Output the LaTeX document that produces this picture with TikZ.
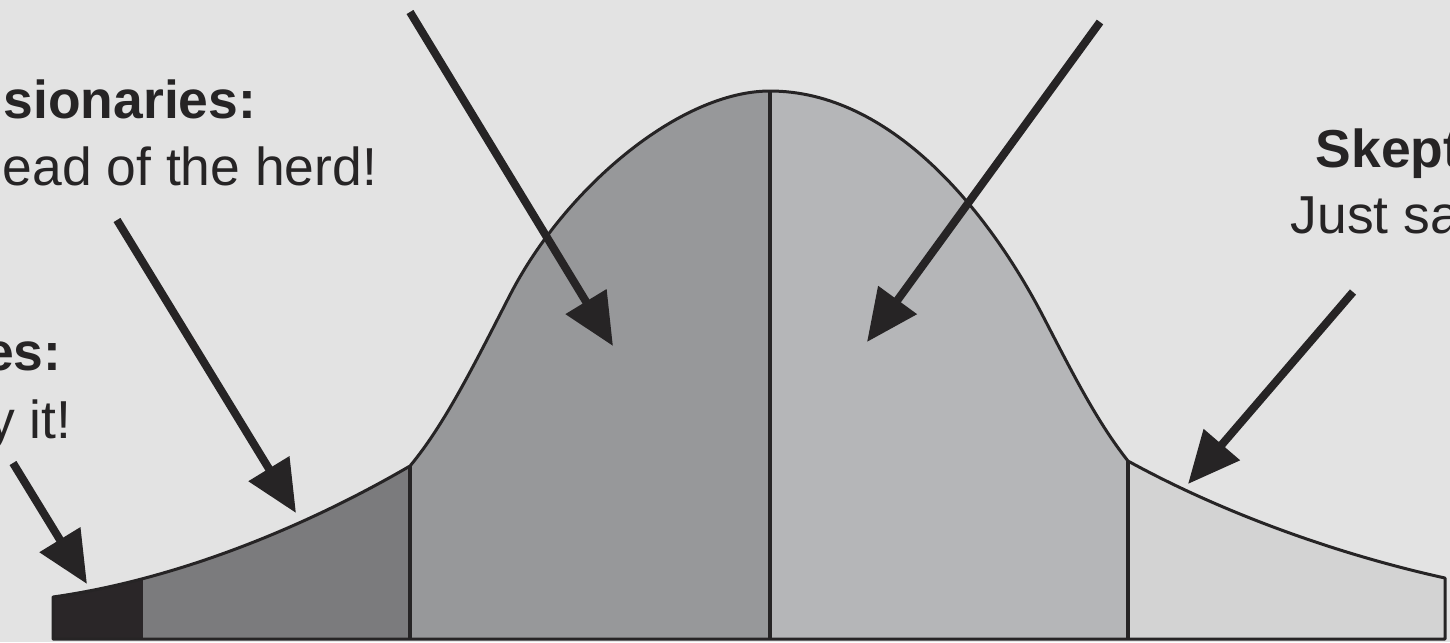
\documentclass[tikz,border=0pt]{standalone}
\usepackage{fontspec}
\setmainfont{Liberation Sans}
\usetikzlibrary{arrows.meta}

\definecolor{paper}{RGB}{227,227,227}
\definecolor{ink}{RGB}{38,36,37}
\definecolor{innovators}{RGB}{42,38,40}
\definecolor{adopters}{RGB}{123,123,125}
\definecolor{earlymajority}{RGB}{151,152,154}
\definecolor{latemajority}{RGB}{181,182,184}
\definecolor{laggards}{RGB}{211,211,211}

\begin{document}
\begin{tikzpicture}[x=0.1mm,y=-0.1mm]
      \tikzstyle{every node}=[font=\fontsize{15.2pt}{18pt}\selectfont, text=ink, inner sep=0pt]
      \tikzstyle{title}=[font=\fontsize{15.2pt}{18pt}\selectfont\bfseries]
      \tikzstyle{pointer}=[draw=ink, line width=0.8mm, -{Triangle[length=5.2mm,width=4.6mm]}]
      \tikzstyle{divider}=[draw=ink, line width=0.35mm]

      \useasboundingbox (0,0) rectangle (1450,642);
      \clip (0,0) rectangle (1450,642);
      \fill[paper] (0,0) rectangle (1450,642);

      \draw[ink, line width=0.3mm, line join=round,
            path picture={
              \fill[innovators] (53,0) rectangle (143,642);
              \fill[adopters] (143,0) rectangle (410,642);
              \fill[earlymajority] (410,0) rectangle (770,642);
              \fill[latemajority] (770,0) rectangle (1128,642);
              \fill[laggards] (1128,0) rectangle (1445,642);
              \draw[divider] (410,0) -- (410,642);
              \draw[divider] (770,0) -- (770,642);
              \draw[divider] (1128,0) -- (1128,642);
            }]
        (53,639) -- (53,597)
        .. controls (173,580) and (300,530) .. (410,466)
        .. controls (445,424) and (475,363) .. (510,295)
        .. controls (565,188) and (680,91) .. (770,91)
        .. controls (890,91) and (988,209) .. (1045,320)
        .. controls (1075,378) and (1098,423) .. (1128,461)
        .. controls (1228,516) and (1345,556) .. (1445,578)
        -- (1445,639) -- cycle;

      \node[title, anchor=base west] (visTitle) at (3,118) {sionaries:};
      \node[anchor=base west] (visText) at (2,185) {ead of the herd!};
      \node[title, anchor=base east] (innTitle) at (62,370) {es:};
      \node[anchor=base east] (innText) at (72,438) {y it!};
      \node[title, anchor=base west] (skepTitle) at (1315,167) {Skept};
      \node[anchor=base west] (skepText) at (1290,233) {Just sa};

      \coordinate (innTail) at (13,463);
      \coordinate (innTip) at (87,584);
      \coordinate (visTail) at (117,220);
      \coordinate (visTip) at (296,513);
      \coordinate (earlyTail) at (410,12);
      \coordinate (earlyTip) at (613,346);
      \coordinate (lateTail) at (1100,22);
      \coordinate (lateTip) at (867,342);
      \coordinate (skepTail) at (1353,292);
      \coordinate (skepTip) at (1188,484);

      \draw[pointer] (innTail) -- (innTip);
      \draw[pointer] (visTail) -- (visTip);
      \draw[pointer] (earlyTail) -- (earlyTip);
      \draw[pointer] (lateTail) -- (lateTip);
      \draw[pointer] (skepTail) -- (skepTip);
\end{tikzpicture}
\end{document}
